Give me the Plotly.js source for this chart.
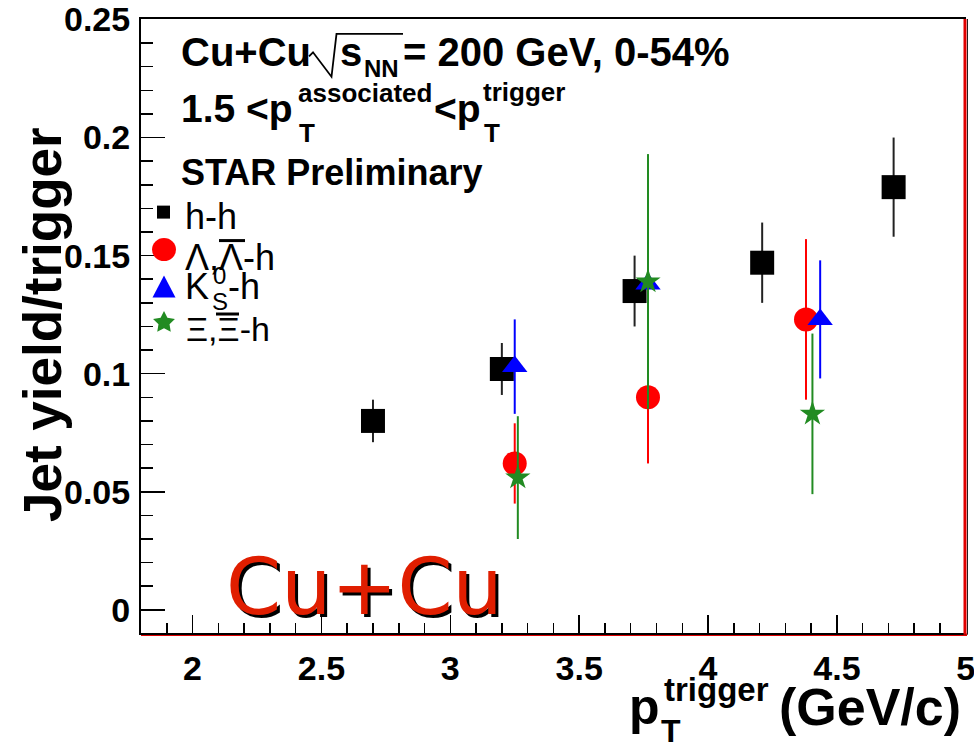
<!DOCTYPE html>
<html>
<head>
<meta charset="utf-8">
<script src="https://cdn.plot.ly/plotly-3.0.1.min.js"></script>
<style>html,body{margin:0;padding:0;background:#fff;}#chart{width:974px;height:747px;}</style>
</head>
<body>
<div id="chart"></div>
<script>
// ---- data ----
const hhX  = [2.70, 3.20, 3.715, 4.21, 4.72];
const hhY  = [0.080, 0.102, 0.135, 0.147, 0.179];
const hhErr = [0.009, 0.011, 0.015, 0.017, 0.021];

const lamX = [3.25, 3.767, 4.38];
const lamY = [0.062, 0.090, 0.123];
const lamErr = [0.017, 0.028, 0.034];

const k0X = [3.25, 3.767, 4.435];
const k0Y = [0.103, 0.138, 0.123];
const k0Err = [0.020, 0.004, 0.025];

const xiX = [3.262, 3.767, 4.405];
const xiY = [0.056, 0.139, 0.083];
const xiErr = [0.026, 0.054, 0.034];

const xTickVals = [2, 2.5, 3, 3.5, 4, 4.5, 5];
const yTickVals = [0, 0.05, 0.1, 0.15, 0.2, 0.25];

// ---- layout helpers (pixel -> paper) ----
const L = 141, R = 966, T = 18.7, B = 633.3;
const px = x => (x - L) / (R - L);
const py = y => (B - y) / (B - T);
const FONT = 'Liberation Sans, Arial, sans-serif';

function ann(text, x, y, size, o) {
  o = o || {};
  return {
    text: text, xref: 'paper', yref: 'paper', x: px(x), y: py(y),
    xanchor: o.xanchor || 'left', yanchor: o.yanchor || 'middle',
    showarrow: false,
    font: {family: o.family || FONT, size: size, color: o.color || '#000'},
    textangle: o.angle || 0
  };
}
function seg(x0, y0, x1, y1, color, w, layer) {
  return {type: 'line', xref: 'paper', yref: 'paper', x0: px(x0), y0: py(y0), x1: px(x1), y1: py(y1),
          line: {color: color, width: w}, layer: layer || 'above'};
}
function polyPath(pts) {
  return 'M' + pts.map(p => px(p[0]).toFixed(5) + ',' + py(p[1]).toFixed(5)).join(' L') + ' Z';
}

function errTrace(name, x, y, e, color, symbol, size) {
  return {
    type: 'scatter', mode: 'markers', name: name, x: x, y: y, showlegend: false,
    marker: {symbol: symbol, size: size, color: color, line: {width: 0}},
    error_y: {type: 'data', array: e, visible: true, color: color, thickness: 2, width: 0}
  };
}

const traces = [
  errTrace('h-h', hhX, hhY, hhErr, '#000000', 'square', 24),
  errTrace('Λ,Λ̄-h', lamX, lamY, lamErr, '#ff0000', 'circle', 24),
  errTrace('K0S-h', k0X, k0Y, k0Err, '#0000ff', 'triangle-up', 22),
  errTrace('Ξ,Ξ̄-h', xiX, xiY, xiErr, '#228b22', 'star', 19)
];
traces[0].error_y.color = '#222222';

// legend symbols (shapes)
const starPts = [];
for (let i = 0; i < 10; i++) {
  const a = -Math.PI / 2 + i * Math.PI / 5;
  const r = (i % 2 === 0) ? 11.5 : 5.8;
  starPts.push([164 + r * Math.cos(a), 322.5 + r * Math.sin(a)]);
}

const shapes = [
  // red frame parts
  seg(L, 635, R + 1, 635, '#e00000', 2.5, 'below'),
  seg(965, T, 965, 635, '#e00000', 3, 'above'),
  seg(967.5, T, 967.5, 635, '#222222', 1, 'above'),
  // sqrt sign
  {type: 'path', xref: 'paper', yref: 'paper', layer: 'above',
   path: 'M' + px(309) + ',' + py(56) + ' L' + px(313) + ',' + py(52) + ' L' + px(331.5) + ',' + py(76.5) +
         ' L' + px(336.5) + ',' + py(33.5) + ' L' + px(403) + ',' + py(33.5),
   line: {color: '#000', width: 1.8}},
  // legend markers
  {type: 'rect', xref: 'paper', yref: 'paper', x0: px(157), x1: px(170), y0: py(205.5), y1: py(218.5),
   fillcolor: '#000', line: {width: 0}, layer: 'above'},
  {type: 'circle', xref: 'paper', yref: 'paper', x0: px(152), x1: px(176), y0: py(238), y1: py(261),
   fillcolor: '#ff0000', line: {width: 0}, layer: 'above'},
  {type: 'path', xref: 'paper', yref: 'paper', path: polyPath([[152.5, 297.5], [175.5, 297.5], [164, 275.5]]),
   fillcolor: '#0000ff', line: {width: 0}, layer: 'above'},
  {type: 'path', xref: 'paper', yref: 'paper', path: polyPath(starPts),
   fillcolor: '#228b22', line: {width: 0}, layer: 'above'},
  // bars over anti-particles
  seg(219, 240.5, 245, 240.5, '#000', 3),
  seg(216, 314, 239, 314, '#000', 3)
];

const annotations = [
  // header line 1
  ann('<b>Cu+Cu</b>', 179, 52, 40),
  ann('<b>s</b>', 338, 52, 40),
  ann('<b>NN</b>', 362, 68, 24),
  ann('<b>= 200 GeV, 0-54%</b>', 401, 52, 40),
  // header line 2
  ann('<b>1.5 &lt;p</b>', 179, 108, 39),
  ann('<b>associated</b>', 296, 93, 26),
  ann('<b>T</b>', 297, 133, 26),
  ann('<b>&lt;p</b>', 432, 108, 39),
  ann('<b>trigger</b>', 481, 92, 26),
  ann('<b>T</b>', 482, 133, 26),
  // header line 3
  ann('<b>STAR Preliminary</b>', 179, 172, 36),
  // legend texts
  ann('h-h', 183, 216, 36),
  ann('Λ,Λ-h', 183, 257, 36),
  ann('K', 183, 286, 36),
  ann('0', 211, 275, 24),
  ann('S', 210, 301, 24),
  ann('-h', 226, 286, 36),
  ann('Ξ,Ξ-h', 184, 329, 34),
  // big Cu+Cu label with shadow
  ann('Cu+Cu', 367, 590, 79, {xanchor: 'center', family: 'DejaVu Sans, Verdana, sans-serif', color: '#000'}),
  ann('Cu+Cu', 364, 587, 79, {xanchor: 'center', family: 'DejaVu Sans, Verdana, sans-serif', color: '#e01e00'}),
  // y axis title
  ann('<b>Jet yield/trigger</b>', 42, 325, 53, {xanchor: 'center', angle: -90}),
  // x axis title
  ann('<b>p</b>', 627, 707, 50),
  ann('<b>trigger</b>', 662, 690, 33),
  ann('<b>T</b>', 659, 731, 32),
  ann('<b>(GeV/c)</b>', 777, 707, 52)
];

const layout = {
  width: 974, height: 747,
  margin: {l: L, r: 974 - R, t: T, b: 747 - B, pad: 0},
  paper_bgcolor: '#fff', plot_bgcolor: '#fff',
  showlegend: false,
  xaxis: {
    range: [1.8, 5.0008], tickvals: xTickVals, ticktext: xTickVals.map(String),
    ticks: 'inside', ticklen: 18, tickwidth: 1.5, tickcolor: '#000',
    minor: {ticks: 'inside', ticklen: 10, dtick: 0.1, tick0: 0, tickwidth: 1.5, tickcolor: '#000', showgrid: false},
    showline: true, linecolor: '#000', linewidth: 2, mirror: true,
    showgrid: false, zeroline: false,
    tickfont: {family: FONT, size: 34, color: '#000', weight: 'bold'},
    ticklabelstandoff: 4, ticklabeloverflow: 'allow'
  },
  yaxis: {
    range: [-0.0098, 0.2502], tickvals: yTickVals, ticktext: ['0', '0.05', '0.1', '0.15', '0.2', '0.25'],
    ticks: 'inside', ticklen: 24, tickwidth: 1.5, tickcolor: '#000',
    minor: {ticks: 'inside', ticklen: 12, dtick: 0.01, tick0: 0, tickwidth: 1.5, tickcolor: '#000', showgrid: false},
    showline: true, linecolor: '#000', linewidth: 2, mirror: false,
    showgrid: false, zeroline: false,
    tickfont: {family: FONT, size: 34, color: '#000', weight: 'bold'},
    ticklabelstandoff: 2, ticklabeloverflow: 'allow'
  },
  shapes: shapes,
  annotations: annotations
};

Plotly.newPlot('chart', traces, layout, {staticPlot: true, displayModeBar: false});
</script>
</body>
</html>
